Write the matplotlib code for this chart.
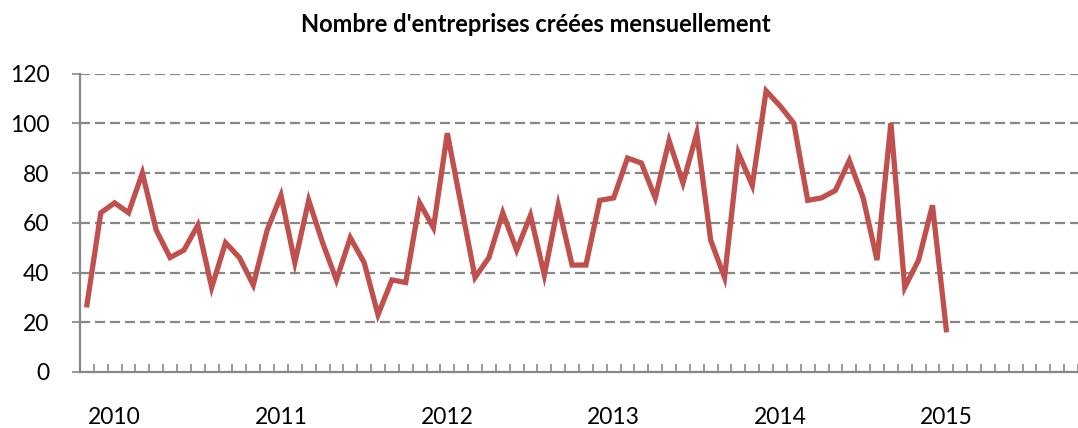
import numpy as np
import matplotlib
matplotlib.use("Agg")
import matplotlib.pyplot as plt

plt.rcParams['font.family'] = ['Lato', 'DejaVu Sans']
plt.rcParams['lines.scale_dashes'] = False

# créations mensuelles, de novembre 2009 à janvier 2015
creations = [27, 64, 68, 64, 80, 57, 46, 49, 59, 34, 52, 46, 35, 57, 71, 44, 69, 52, 37,
             54, 44, 23, 37, 36, 68, 58, 96, 67, 38, 46, 64, 49, 63, 39, 67, 43, 43, 69, 70,
             86, 84, 70, 93, 76, 96, 53, 38, 88, 75, 113, 107, 100, 69, 70, 73, 85, 70, 45,
             100, 34, 45, 67, 17]
annees = ['2010', '2011', '2012', '2013', '2014', '2015']
idx_janvier = [2, 14, 26, 38, 50, 62]   # position de janvier de chaque année
n_mois = 72                              # nov. 2009 -> oct. 2015
y_ticks = [0, 20, 40, 60, 80, 100, 120]

gris = '#878787'
rouge = '#C0504D'

fig = plt.figure(figsize=(10.78, 4.28), dpi=100)
ax = fig.add_axes([80 / 1078, (428 - 372) / 428, 998 / 1078, (372 - 73.5) / 428])

x = np.arange(len(creations)) + 0.5
ax.plot(x, creations, color=rouge, lw=3.8, solid_joinstyle='miter', zorder=3)

ax.set_xlim(0, n_mois)
ax.set_ylim(0, 120)

# grille horizontale en tirets
ax.set_yticks(y_ticks)
ax.set_yticklabels([str(v) for v in y_ticks], fontsize=16.5)
for v in y_ticks[1:]:
    ax.axhline(v, color=gris, lw=1.6, ls=(0, (7.2, 3.6)), zorder=1)

ax.tick_params(axis='y', direction='out', length=6, width=1.2, color=gris, pad=16)

# graduations mensuelles + étiquettes annuelles
ax.set_xticks(np.array(idx_janvier) + 0.5)
ax.set_xticklabels(annees, fontsize=16.5)
ax.tick_params(axis='x', which='major', length=0, pad=25)
ax.set_xticks(np.arange(1, n_mois + 1), minor=True)
ax.tick_params(axis='x', which='minor', direction='in', length=6, width=1.2, color=gris)

for s in ['top', 'right']:
    ax.spines[s].set_visible(False)
for s in ['left', 'bottom']:
    ax.spines[s].set_color(gris)
    ax.spines[s].set_linewidth(1.6)

fig.text(0.497, 0.942, "Nombre d'entreprises créées mensuellement",
         ha='center', va='center', fontsize=17, fontweight='bold')

fig.savefig('out.png', dpi=100)
